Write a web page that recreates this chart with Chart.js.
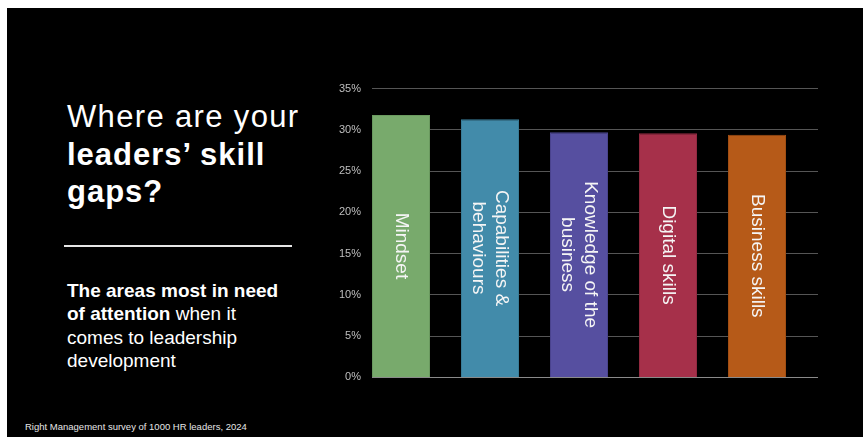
<!DOCTYPE html>
<html>
<head>
<meta charset="utf-8">
<script src="https://cdn.jsdelivr.net/npm/chart.js@4"></script>
<style>
    body { margin: 0; background: #fff; font-family: "Liberation Sans", Arial, sans-serif; }
    #slide { position: absolute; left: 7px; top: 8px; width: 856px; height: 429px; background: #000; }
    .txt { position: absolute; color: #fff; white-space: nowrap; }
    #title { left: 60px; top: 90px; font-size: 31px; line-height: 37.5px; letter-spacing: 1px; }
    #title .l1 { letter-spacing: 1.35px; }
    #rule { position: absolute; left: 57px; top: 237px; width: 228px; height: 2px; background: #e6e6e6; }
    #sub { left: 60px; top: 271px; font-size: 19px; line-height: 23.3px; }
    #source { left: 18px; top: 413px; font-size: 9.5px; line-height: 12px; color: #e6e6e6; }
    #chartBox { position: absolute; left: 313px; top: 63px; width: 520px; height: 324px; }
</style>
</head>
<body>
<div id="slide">
    <div class="txt" id="title"><span class="l1">Where are your</span><br><b>leaders’ skill<br>gaps?</b></div>
    <div id="rule"></div>
    <div class="txt" id="sub"><b>The areas most in need<br>of attention</b> when it<br>comes to leadership<br>development</div>
    <div class="txt" id="source">Right Management survey of 1000 HR leaders, 2024</div>
    <div id="chartBox"><canvas id="barChart" width="520" height="324"></canvas></div>
</div>
<script>
    // du lieu doc tu hinh
    var gCategories = ["Mindset", ["Capabilities &", "behaviours"], ["Knowledge of the", "business"], "Digital skills", "Business skills"];
    var gValues = [31.8, 31.3, 29.7, 29.6, 29.4];
    var gColors = ["#78aa6c", "#428baa", "#564fa0", "#a6304a", "#b65a18"];
    var gBorders = ["#6a9a5f", "#3a7c98", "#4a448e", "#922a41", "#a24f14"];
    var gTicks = [0, 5, 10, 15, 20, 25, 30, 35];

    // ve ten nhom xoay doc trong cot
    var barLabelPlugin = {
        id: "barLabels",
        afterDatasetsDraw: function (chart) {
            var ctx = chart.ctx;
            var meta = chart.getDatasetMeta(0);
            ctx.save();
            ctx.font = '19px "Liberation Sans", Arial, sans-serif';
            ctx.fillStyle = "#f5f5f5";
            ctx.textAlign = "center";
            ctx.textBaseline = "middle";
            for (var i = 0; i < meta.data.length; i++) {
                var bar = meta.data[i];
                var lines = [].concat(gCategories[i]);
                ctx.save();
                ctx.translate(bar.x, (bar.y + bar.base) / 2);
                ctx.rotate(Math.PI / 2);
                for (var j = 0; j < lines.length; j++) {
                    ctx.fillText(lines[j], 0, (j - (lines.length - 1) / 2) * 22.7);
                }
                ctx.restore();
            }
            ctx.restore();
        }
    };

    var vPoints = [];
    for (var i = 0; i < gValues.length; i++) {
        vPoints.push({ x: i, y: gValues[i] });
    }

    new Chart(document.getElementById("barChart").getContext("2d"), {
        type: "bar",
        data: {
            datasets: [{
                data: vPoints,
                backgroundColor: gColors,
                borderColor: gBorders,
                borderWidth: 1,
                categoryPercentage: 0.652,
                barPercentage: 1
            }]
        },
        options: {
            responsive: false,
            animation: false,
            devicePixelRatio: 1,
            layout: { padding: { left: 0, right: 22, top: 9.3, bottom: 15 } },
            plugins: { legend: { display: false }, tooltip: { enabled: false } },
            scales: {
                x: {
                    type: "linear",
                    display: false,
                    offset: false,
                    grid: { offset: false },
                    min: -0.3258,
                    max: 4.6854,
                    // mot tick cho moi cot, de do rong cot tinh dung
                    afterBuildTicks: function (scale) {
                        scale.ticks = gValues.map(function (v, i) { return { value: i }; });
                    }
                },
                y: {
                    min: gTicks[0],
                    max: gTicks[gTicks.length - 1],
                    afterFit: function (scale) { scale.width = 52; },
                    afterBuildTicks: function (scale) {
                        scale.ticks = gTicks.map(function (v) { return { value: v }; });
                    },
                    border: { display: false },
                    grid: {
                        drawTicks: false,
                        lineWidth: 1,
                        color: function (c) { return c.tick && c.tick.value === 0 ? "#8a8a8a" : "#555555"; }
                    },
                    ticks: {
                        padding: 11,
                        color: "#bfbfbf",
                        font: { family: '"Liberation Sans", Arial, sans-serif', size: 11 },
                        callback: function (v) { return v + "%"; }
                    }
                }
            }
        },
        plugins: [barLabelPlugin]
    });
</script>
</body>
</html>
